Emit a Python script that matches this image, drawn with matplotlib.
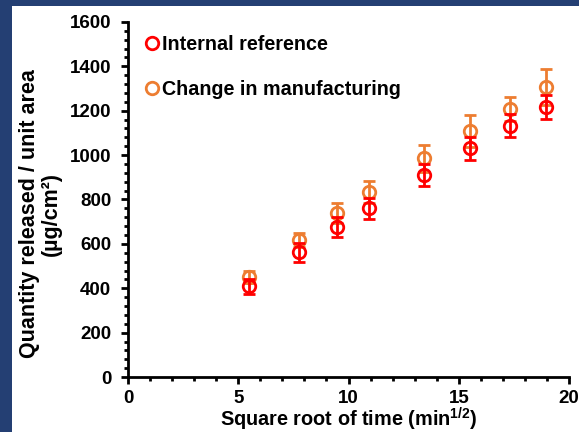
import matplotlib.pyplot as plt
from matplotlib.ticker import MultipleLocator
from matplotlib.patches import Rectangle

plt.rcParams['font.family'] = ['Liberation Sans', 'DejaVu Sans']
plt.rcParams['font.weight'] = 'bold'
plt.rcParams['mathtext.fontset'] = 'custom'
plt.rcParams['mathtext.rm'] = 'Liberation Sans:bold'
plt.rcParams['mathtext.bf'] = 'Liberation Sans:bold'
plt.rcParams['mathtext.default'] = 'bf'

# data
sqrt_time = [5.48, 7.75, 9.49, 10.95, 13.42, 15.49, 17.32, 18.97]
internal = [408, 562, 677, 760, 910, 1030, 1133, 1218]
internal_err = [33, 42, 45, 48, 50, 50, 53, 55]
changed = [452, 617, 737, 832, 985, 1108, 1208, 1308]
changed_err = [27, 33, 45, 50, 60, 73, 55, 80]
labels = ['Internal reference', 'Change in manufacturing']

fig = plt.figure(figsize=(5.79, 4.32), dpi=100, facecolor='#243F73')
# white panel behind the chart
fig.patches.append(Rectangle((12/579, 0), 1, 426/432, transform=fig.transFigure,
                             facecolor='white', edgecolor='none', zorder=-1))

ax = fig.add_axes([128/579, 55/432, 441/579, 355/432])
ax.patch.set_alpha(0)

ax.errorbar(sqrt_time, changed, yerr=changed_err, fmt='o', mfc='none', mec='#ED7D31',
            ecolor='#ED7D31', ms=9, mew=2, elinewidth=2, capsize=4, capthick=2,
            label=labels[1], zorder=3)
ax.errorbar(sqrt_time, internal, yerr=internal_err, fmt='o', mfc='none', mec='#FF0000',
            ecolor='#FF0000', ms=9, mew=2, elinewidth=2, capsize=4, capthick=2,
            label=labels[0], zorder=4)

ax.set_xlim(0, 20)
ax.set_ylim(0, 1600)
ax.xaxis.set_major_locator(MultipleLocator(5))
ax.xaxis.set_minor_locator(MultipleLocator(1))
ax.yaxis.set_major_locator(MultipleLocator(200))
ax.yaxis.set_minor_locator(MultipleLocator(40))
for s in ['top', 'right']:
    ax.spines[s].set_visible(False)
for s in ['left', 'bottom']:
    ax.spines[s].set_linewidth(2)
ax.tick_params(which='major', direction='out', length=5, width=2, labelsize=13.5)
ax.tick_params(which='minor', direction='out', length=3, width=2)
ax.tick_params(axis='x', which='major', pad=4.5)
ax.tick_params(axis='y', which='major', pad=7)

ax.set_xlabel('Square root of time (min$^{1/2}$)', fontsize=14.3, fontweight='bold', labelpad=-1)
ax.set_ylabel('Quantity released / unit area\n(µg/cm²)', fontsize=15.5, fontweight='bold',
              linespacing=1.05)
ax.yaxis.set_label_coords(-0.15, 0.46)

handles, lbls = ax.get_legend_handles_labels()
handles = [h[0] for h in handles[::-1]]
leg = ax.legend(handles, lbls[::-1], loc='upper left', bbox_to_anchor=(0.0, 1.013),
                frameon=False, handlelength=0.6, handletextpad=0.2, labelspacing=1.3,
                prop={'size': 14.2, 'weight': 'bold'})

fig.savefig('out.png', dpi=100, facecolor=fig.get_facecolor())
